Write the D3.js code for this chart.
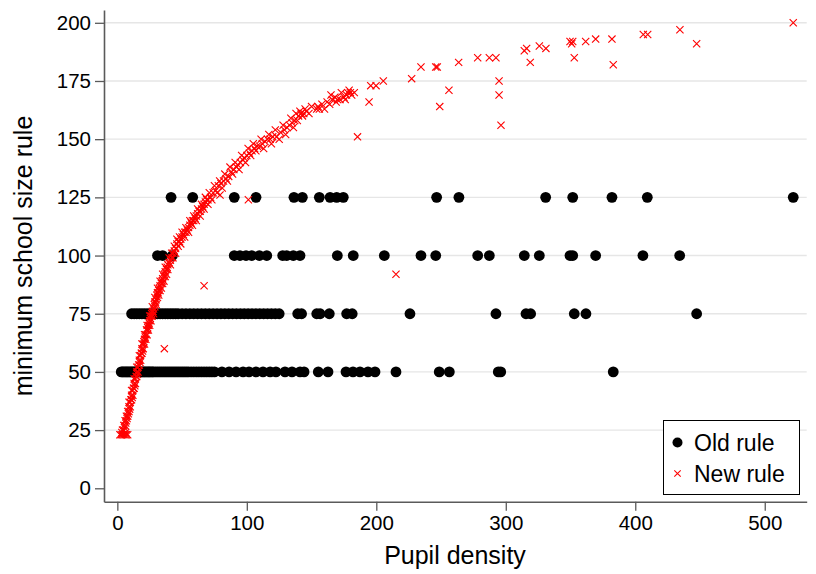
<!DOCTYPE html>
<html>
<head>
<meta charset="utf-8">
<script src="https://cdn.jsdelivr.net/npm/d3@7"></script>
<style>
  body { margin: 0; background: #fff; }
  svg text { font-family: "Liberation Sans", Arial, sans-serif; fill: #000; }
</style>
</head>
<body>
<div id="chart"></div>
<script>
// old rule: pupil density of each school, grouped by the size rule it falls under
var oldLevels = [50, 75, 100, 125];
var old50 = [3,4,5,6,7,8,9,10,11,12,13,14,15,16,17,18,19,20,21,22,23,24,25,26,27,28,29.5,31,32.5,34,35.5,37,38.5,40,41.5,43,44.5,46,47.5,49,50.5,52,53.5,55,57,59,61,63,65,67,69,71,73,75,
  80.8,86.3,91.7,97.1,101.7,107.1,112.5,118,122.5,129.5,134.9,141.1,144.2,155.2,162.7,176.6,182,187.4,193.6,199,215.2,248.6,256.4,294.2,296.1,383];
var old75 = [11,13,15,17,19,21,23,25,27,29,31,33,35,37,39,41,43,45,47,50,53,56,59,62,65,68,71,74,77,80,83,86,89,92,95,98,101,104,107,110,113,116,119,122,125,
  139.3,142.3,154,156.6,163.7,177.1,181.4,226,292.4,315.6,319.2,352.9,361.9,447.4];
var old100 = [31,35,42.5,90.3,94.7,99.4,103.8,109.7,115.4,127.7,130.8,135.9,141.1,169.9,182.2,206.2,234.5,245.9,278.3,287.3,314.3,325.9,349.6,351.7,369.4,405.9,434.3];
var old125 = [41.5,58.2,90.3,107.1,136.4,142.9,156,164.3,169.4,174.5,246.6,263.8,330.8,351.7,382,409.3,522];

// new rule: [pupil density, minimum school size]
var newRule = [
  [2,23],[3,23],[4,23],[5,23],[6,23],[7,23],[8,23],[3.5,24],[6.5,24],
  [5,27],[5.5,26],[6,29],[6.5,28],[7,31],[7.5,30],[8,33],[8.5,32],[9,35],[9.5,34],
  [10,37],[10.5,38],[11,40],[11.5,39],[12,42],[12.5,43],[13,45],[13.5,44],[14,47],[14.5,48],
  [15,50],[15.5,49],[16,52],[16.5,53],[17,55],[17.5,54],[18,57],[18.5,58],[19,60],[19.5,59],
  [20,62],[20.5,63],[21,64],[21.5,65],[22,66],[22.5,68],[23,68],[23.5,69],[24,70],[24.5,71],
  [25,72],[25.5,73],[26,74],[26.5,75],[27,76],[27.5,76],[28,77],[28.5,79],[29,80],[29.5,80],
  [30,81],[30.5,83],[31,84],[31.5,84],[32,85],[32.5,86],[33,87],[34,88],[34.5,89],[35,90],
  [36,91],[36.5,92],[37,93],[38,94],[38.5,95],[39,96],[40,97],[41,98],[42,99],[43,101],
  [44,102],[45,103],[46,105],[47,106],[48,106],[49,107],[50,108],[51,109],[52,110],[53,110],
  [54,111],[55,112],[56,113],[57,114],[58,115],[59,115],[60,116],[61,117],[62,118],[63,119],
  [64,119],[65,120],[66,121],[67,122],[68,123],[69,124],[70,124],[72,125],[74,127],[76,128],
  [78,130],[80,131],[82,132],[84,133],[86,134],[88,136],[90,137],[92,138],[93,139],[95,140],
  [97,141],[98,142],[100,143],[102,144],[104,145],[106,146],[108,147],[110,147],[112,148],[114,149],
  [116,150],[118,150],[120,151],[123,151],[126,153],[129,154],[131,155],[133,156],[135,157],[137,158],
  [139,158],[140,160],[141,162],[142,161],[143,160],[144,161],[145,163],[146,162],[154,163],[155,164],
  [156,163],[162,166],[164,165],[166,167],[168,168],[170,167],[172,167],[175,168],[177,169],[178,170],
  [180,170],[181,169],[183,170],
  // second pass along the band, the points either side of the centre
  [4,25],[5,25],[6,27],[7,29],[8,31],[9,33],[9,37],[10,35],[11,38],[11,42],[12,40],[13,43],[13,47],
  [14,45],[15,48],[15,52],[16,50],[17,53],[17,57],[18,55],[19,58],[19,62],[20,60],[21,62],[21,66],
  [22,64],[23,66],[23,70],[24,68],[25,70],[25,74],[26,72],[27,74],[27,78],[28,75],[29,78],[29,82],
  [30,79],[31,82],[31,86],[32,83],[33,85],[33,89],[34,86],[35,88],[35,92],[36,89],[37,91],[37,95],
  [38,92],[39,94],[40,99],[41,96],[42,101],[43,99],[44,104],[45,101],[46,107],[47,104],[48,108],
  [49,105],[50,110],[52,108],[53,112],[55,110],[56,115],[58,113],[59,117],[61,115],[62,120],[64,117],
  [65,122],[67,120],[68,125],[70,122],[71,127],[73,124],[75,130],[77,127],[79,132],[81,129],[83,135],
  [85,132],[87,138],[89,135],[91,140],[94,137],[96,143],[99,140],[101,146],[103,143],[105,148],[107,145],
  [111,150],[113,146],[117,152],[119,148],[122,154],[125,150],[128,156],[130,152],[134,159],[136,155],
  [138,161],[148,161],[150,164],[158,165],[160,163],[165,169],[169,166],[173,170],[176,167],[179,171],
  // the scattered ones
  [36.3,60],[67,87],[79.3,126],[101.2,124],[185.5,151],[194.4,166],[195.7,173],[199.8,173],[205.4,175],
  [215.2,92],[227.3,176],[234.5,181],[245.9,181],[247.1,181],[249,164],[256.1,171],[263.6,183],
  [278.3,185],[287.3,185],[292.4,185],[294.8,175],[294.8,169],[296.3,156],[314.3,188],[316.1,189],
  [318.9,183],[325.9,190],[331,189],[349.6,192],[350.9,191],[351.7,192],[352.9,185],[361.7,192],
  [369.4,193],[382,193],[383,182],[406.2,195],[409.6,195],[434.5,197],[447.4,191],[522,200]
];

var xTicks = [0, 100, 200, 300, 400, 500];
var yTicks = [0, 25, 50, 75, 100, 125, 150, 175, 200];
var legendLabels = ["Old rule", "New rule"];

var width = 816, height = 574;

var svg = d3.select("#chart").append("svg")
  .attr("width", width)
  .attr("height", height);

var x = d3.scaleLinear().domain([-10.3, 532.4]).range([104, 806.7]);
var y = d3.scaleLinear().domain([-5.76, 205.5]).range([501.7, 10]);

// grid lines (no line at zero)
svg.append("g")
  .selectAll("line")
  .data(yTicks.filter(function(d) { return d > 0; }))
  .enter().append("line")
  .attr("x1", 105).attr("x2", 806.7)
  .attr("y1", function(d) { return y(d); })
  .attr("y2", function(d) { return y(d); })
  .attr("stroke", "#e6e6e6")
  .attr("stroke-width", 1.4);

// axes
var yAxis = svg.append("g")
  .attr("transform", "translate(104,0)")
  .call(d3.axisLeft(y).tickValues(yTicks).tickSize(9).tickSizeOuter(0).tickPadding(4));
var xAxis = svg.append("g")
  .attr("transform", "translate(0,501.7)")
  .call(d3.axisBottom(x).tickValues(xTicks).tickSize(9).tickSizeOuter(0).tickPadding(5));

[yAxis, xAxis].forEach(function(a) {
  a.selectAll("path.domain").attr("stroke", "#5a5a5a").attr("stroke-width", 1.6);
  a.selectAll(".tick line").attr("stroke", "#5a5a5a").attr("stroke-width", 1.3);
  a.selectAll(".tick text")
    .style("font-family", "'Liberation Sans', Arial, sans-serif")
    .attr("font-size", 20.5).attr("fill", "#000");
});

// axis titles
svg.append("text")
  .attr("x", 455).attr("y", 564)
  .attr("text-anchor", "middle")
  .attr("font-size", 25)
  .text("Pupil density");
svg.append("text")
  .attr("transform", "translate(32,256) rotate(-90)")
  .attr("text-anchor", "middle")
  .attr("font-size", 25)
  .text("minimum school size rule");

// old rule circles
var oldData = [];
[old50, old75, old100, old125].forEach(function(arr, i) {
  arr.forEach(function(d) { oldData.push([d, oldLevels[i]]); });
});

svg.append("g")
  .selectAll("circle")
  .data(oldData)
  .enter().append("circle")
  .attr("cx", function(d) { return x(d[0]); })
  .attr("cy", function(d) { return y(d[1]); })
  .attr("r", 5.4)
  .attr("fill", "#000");

// new rule crosses
var cross = function(s) {
  return "M" + (-s) + "," + (-s) + "L" + s + "," + s + "M" + (-s) + "," + s + "L" + s + "," + (-s);
};

svg.append("g")
  .selectAll("path")
  .data(newRule)
  .enter().append("path")
  .attr("transform", function(d) { return "translate(" + x(d[0]) + "," + y(d[1]) + ")"; })
  .attr("d", cross(3.6))
  .attr("stroke", "#ff0000")
  .attr("stroke-width", 1.1)
  .attr("fill", "none");

// legend
var lg = svg.append("g");
lg.append("rect")
  .attr("x", 663.5).attr("y", 420.5)
  .attr("width", 136).attr("height", 74)
  .attr("fill", "#fff")
  .attr("stroke", "#000")
  .attr("stroke-width", 1);
lg.append("circle")
  .attr("cx", 677.5).attr("cy", 442.5).attr("r", 5)
  .attr("fill", "#000");
lg.append("path")
  .attr("transform", "translate(677.5,473.5)")
  .attr("d", cross(3.2))
  .attr("stroke", "#ff0000")
  .attr("stroke-width", 1.1);
lg.selectAll("text")
  .data(legendLabels)
  .enter().append("text")
  .attr("x", 694)
  .attr("y", function(d, i) { return 450.5 + i * 31.2; })
  .attr("font-size", 23)
  .text(function(d) { return d; });
</script>
</body>
</html>
